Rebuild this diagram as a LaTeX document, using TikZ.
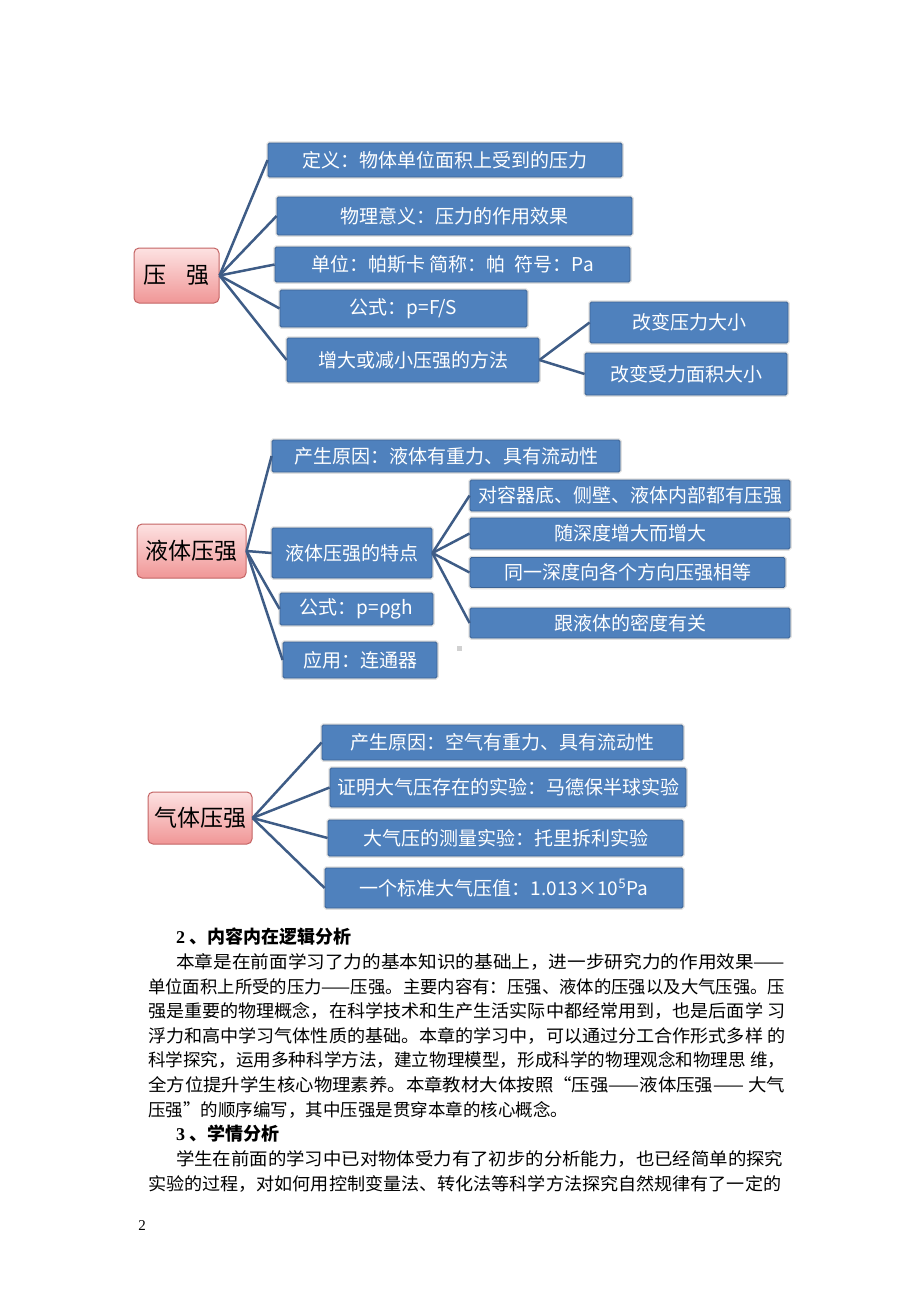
\documentclass[tikz,border=0pt]{standalone}
\usepackage{fontspec}
\usepackage{graphicx}
\setmainfont{Noto Sans CJK SC}
\newfontfamily\serifnum{Liberation Serif}

\definecolor{boxblue}{RGB}{79,129,189}
\definecolor{boxedge}{RGB}{60,100,150}
\definecolor{linkblue}{RGB}{62,92,134}
\definecolor{rootedge}{RGB}{196,100,100}
\definecolor{rootlight}{RGB}{253,226,226}
\definecolor{rootdark}{RGB}{240,150,150}

\newcommand{\fitline}[2]{\resizebox{#1pt}{\height}{#2}}

\begin{document}
\begin{tikzpicture}[x=1pt,y=-1pt,
  leaf/.style={draw=boxedge, fill=boxblue, text=white, line width=0.8pt,
    rounded corners=1.5pt, inner sep=0pt,
    font=\fontsize{19}{19}\selectfont,
    preaction={draw=black!12, line width=3.5pt}},
  root/.style={draw=rootedge, top color=rootlight, bottom color=rootdark,
    rounded corners=5pt, line width=1pt, inner sep=0pt,
    font=\fontsize{23}{23}\selectfont},
  link/.style={draw=linkblue, line width=2.5pt},
  bodyline/.style={anchor=west, inner sep=0pt, font=\fontsize{17.5}{17.5}\selectfont}]

\fill[white] (0,0) rectangle (920,1302);
\useasboundingbox (0,0) rectangle (920,1302);

\node[root, minimum width=85, minimum height=55] (ya) at (176.5,275.5) {压\hspace{0.9em}强};
\node[leaf, minimum width=354, minimum height=34] (yaa) at (445,160) {定义：物体单位面积上受到的压力};
\node[leaf, minimum width=355, minimum height=38] (yab) at (454.5,216) {物理意义：压力的作用效果};
\node[leaf, minimum width=355, minimum height=35] (yac) at (452.5,264.5) {单位：帕斯卡 简称：帕\enspace 符号：Pa};
\node[leaf, minimum width=247, minimum height=37] (yad) at (403.5,308.5) {公式：p=F/S};
\node[leaf, minimum width=252, minimum height=44] (yae) at (413,360) {增大或减小压强的方法};
\node[leaf, minimum width=198, minimum height=41] (yaf) at (689,322.5) {改变压力大小};
\node[leaf, minimum width=202, minimum height=42] (yag) at (686,374) {改变受力面积大小};

\draw[link] (ya.east) -- (yaa.west);
\draw[link] (ya.east) -- (yab.west);
\draw[link] (ya.east) -- (yac.west);
\draw[link] (ya.east) -- (yad.west);
\draw[link] (ya.east) -- (yae.west);
\draw[link] (yae.east) -- (yaf.west);
\draw[link] (yae.east) -- (yag.west);

\node[root, minimum width=109, minimum height=54] (yt) at (191.5,551) {液体压强};
\node[leaf, minimum width=348, minimum height=32] (yta) at (446,456) {产生原因：液体有重力、具有流动性};
\node[leaf, minimum width=160, minimum height=50] (ytb) at (352,553) {液体压强的特点};
\node[leaf, minimum width=153, minimum height=32] (ytc) at (356.5,609) {公式：p=ρgh};
\node[leaf, minimum width=154, minimum height=36] (ytd) at (360,660) {应用：连通器};
\node[leaf, minimum width=320, minimum height=31] (yte) at (630,495.5) {对容器底、侧壁、液体内部都有压强};
\node[leaf, minimum width=320, minimum height=31] (ytf) at (630,533.5) {随深度增大而增大};
\node[leaf, minimum width=315, minimum height=30] (ytg) at (627.5,572.5) {同一深度向各个方向压强相等};
\node[leaf, minimum width=320, minimum height=30] (yth) at (630,623) {跟液体的密度有关};
\fill[black!18] (457,646) rectangle (462,651);

\draw[link] (yt.east) -- (yta.west);
\draw[link] (yt.east) -- (ytb.west);
\draw[link] (yt.east) -- (ytc.west);
\draw[link] (yt.east) -- (ytd.west);
\draw[link] (ytb.east) -- (yte.west);
\draw[link] (ytb.east) -- (ytf.west);
\draw[link] (ytb.east) -- (ytg.west);
\draw[link] (ytb.east) -- (yth.west);

\node[root, minimum width=104, minimum height=52] (qt) at (200,818) {气体压强};
\node[leaf, minimum width=361, minimum height=35] (qta) at (502.5,742.5) {产生原因：空气有重力、具有流动性};
\node[leaf, minimum width=356, minimum height=39] (qtb) at (508,787.5) {证明大气压存在的实验：马德保半球实验};
\node[leaf, minimum width=355, minimum height=36] (qtc) at (505.5,838) {大气压的测量实验：托里拆利实验};
\node[leaf, minimum width=358, minimum height=40] (qtd) at (504,888) {一个标准大气压值：1.013×10\textsuperscript{5}Pa};

\draw[link] (qt.east) -- (qta.west);
\draw[link] (qt.east) -- (qtb.west);
\draw[link] (qt.east) -- (qtc.west);
\draw[link] (qt.east) -- (qtd.west);

\node[bodyline, font=\fontsize{18}{18}\selectfont\bfseries] (h2) at (176,937) {{\serifnum 2} 、内容内在逻辑分析};
\node[bodyline] (p1) at (176,962) {\fitline{609}{本章是在前面学习了力的基本知识的基础上，进一步研究力的作用效果——}};
\node[bodyline] (p2) at (148,987) {\fitline{637}{单位面积上所受的压力——压强。主要内容有：压强、液体的压强以及大气压强。压}};
\node[bodyline] (p3) at (148,1011) {\fitline{637}{强是重要的物理概念，在科学技术和生产生活实际中都经常用到，也是后面学 习}};
\node[bodyline] (p4) at (148,1036) {\fitline{637}{浮力和高中学习气体性质的基础。本章的学习中，可以通过分工合作形式多样 的}};
\node[bodyline] (p5) at (148,1060) {\fitline{637}{科学探究，运用多种科学方法，建立物理模型，形成科学的物理观念和物理思 维，}};
\node[bodyline] (p6) at (148,1085) {\fitline{637}{全方位提升学生核心物理素养。本章教材大体按照“压强——液体压强—— 大气}};
\node[bodyline] (p7) at (148,1110) {压强”的顺序编写，其中压强是贯穿本章的核心概念。};
\node[bodyline, font=\fontsize{18}{18}\selectfont\bfseries] (h3) at (176,1134) {{\serifnum 3} 、学情分析};
\node[bodyline] (q1) at (176,1159) {\fitline{607}{学生在前面的学习中已对物体受力有了初步的分析能力，也已经简单的探究}};
\node[bodyline] (q2) at (148,1184) {\fitline{633}{实验的过程，对如何用控制变量法、转化法等科学方法探究自然规律有了一定的}};

\node[font=\serifnum\fontsize{15}{15}\selectfont, inner sep=0pt] (pg) at (142,1226) {2};

\end{tikzpicture}
\end{document}
